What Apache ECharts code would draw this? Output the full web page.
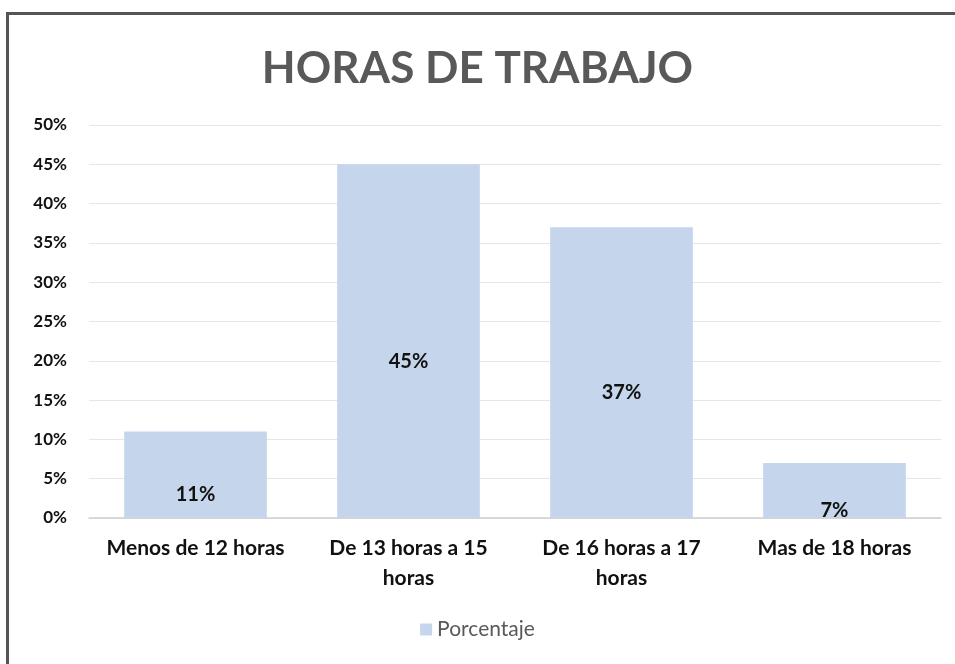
<!DOCTYPE html>
<html>
<head>
<meta charset="utf-8">
<script src="https://cdn.jsdelivr.net/npm/echarts@6/dist/echarts.min.js"></script>
<style>
  html, body { margin: 0; padding: 0; background: #fff; }
  #wrap { position: relative; width: 955px; height: 664px; overflow: hidden; }
  #frame { position: absolute; left: 6px; top: 12px; width: 1000px; height: 700px;
           border-top: 3px solid #555; border-left: 3px solid #555; box-sizing: border-box; }
  #chart { position: absolute; left: 0; top: 0; width: 955px; height: 664px; }
</style>
</head>
<body>
<div id="wrap">
  <div id="frame"></div>
  <div id="chart"></div>
</div>
<script>
const categories = ['Menos de 12 horas', 'De 13 horas a 15\nhoras', 'De 16 horas a 17\nhoras', 'Mas de 18 horas']
const porcentaje = [11, 45, 37, 7]
const seriesName = 'Porcentaje'
const chartTitle = 'HORAS DE TRABAJO'

const font = 'Lato'
const chart = echarts.init(document.getElementById('chart'))
chart.setOption({
  animation: false,
  title: {
    text: chartTitle,
    left: 'center',
    top: 42,
    textStyle: { color: '#595959', fontSize: 44, fontWeight: 'bold', fontFamily: font },
  },
  legend: {
    data: [seriesName],
    bottom: 19,
    left: 'center',
    itemWidth: 12,
    itemHeight: 12,
    icon: 'rect',
    itemGap: 6,
    textStyle: { color: '#595959', fontSize: 21, fontFamily: font },
  },
  grid: { left: 89, right: 14, top: 125, bottom: 146 },
  xAxis: {
    type: 'category',
    data: categories,
    axisTick: { show: false },
    axisLine: { lineStyle: { color: '#d0d0d0', width: 1.5 } },
    axisLabel: {
      color: '#111', fontSize: 21, fontWeight: 'bold', fontFamily: font,
      margin: 15, lineHeight: 30, interval: 0,
    },
  },
  yAxis: {
    type: 'value',
    min: 0,
    max: 50,
    interval: 5,
    axisLine: { show: false },
    axisTick: { show: false },
    splitLine: { lineStyle: { color: '#e6e6e6', width: 1 } },
    axisLabel: {
      color: '#111', fontSize: 17, fontWeight: 'bold', fontFamily: font,
      margin: 22, formatter: '{value}%',
    },
  },
  series: [{
    name: seriesName,
    type: 'bar',
    data: porcentaje,
    barWidth: '67%',
    itemStyle: { color: '#c5d6ec' },
    label: {
      show: true,
      position: 'inside',
      offset: [0, 20],
      formatter: '{c}%',
      color: '#111',
      fontSize: 20,
      fontWeight: 'bold',
      fontFamily: font,
    },
  }],
})
</script>
</body>
</html>
